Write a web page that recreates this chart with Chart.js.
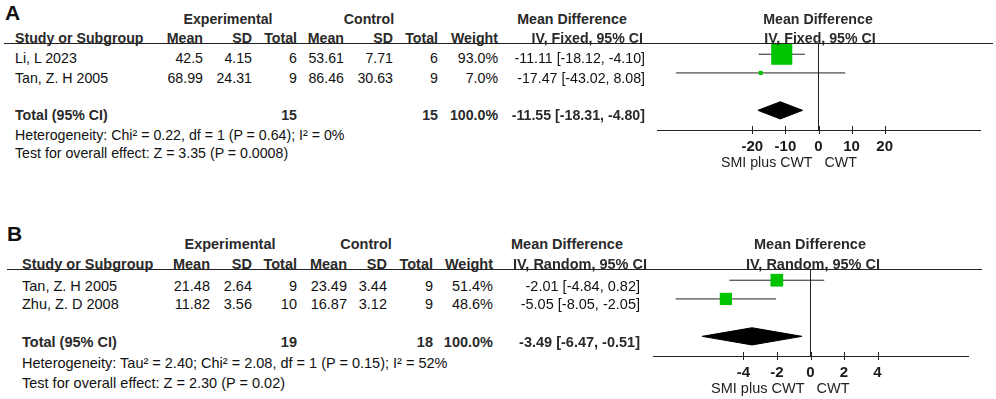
<!DOCTYPE html>
<html lang="en">
<head>
<meta charset="UTF-8" />
<title>Forest plot - Mean Difference</title>
<script src="https://cdn.jsdelivr.net/npm/chart.js@4.4.0/dist/chart.umd.min.js"></script>
<style>
  html, body { margin: 0; padding: 0; background: #fff; }
  body {
    width: 996px; height: 399px; position: relative; overflow: hidden;
    font-family: "Liberation Sans", Arial, Helvetica, sans-serif;
    font-size: 14.2px; color: #111;
  }
  .t { position: absolute; white-space: nowrap; line-height: 1; }
  .b { font-weight: bold; color: #2a2a2a; }
  .letter { font-weight: bold; color: #111; }
  .rule { position: absolute; height: 1px; background: #222; }
  canvas { position: absolute; }
</style>
</head>
<body>

<canvas id="plotA" width="356" height="173" style="left:640px; top:0px"></canvas>
<canvas id="plotB" width="356" height="173" style="left:640px; top:226px"></canvas>

<script>
  // ---- panel A : IV, Fixed ----
  var studyA = ["Li, L 2023", "Tan, Z. H 2005"];
  var expMeanA = [42.5, 68.99];
  var expSdA = [4.15, 24.31];
  var expNA = [6, 9];
  var ctlMeanA = [53.61, 86.46];
  var ctlSdA = [7.71, 30.63];
  var ctlNA = [6, 9];
  var weightA = [93.0, 7.0];
  var mdA = [-11.11, -17.47];
  var loA = [-18.12, -43.02];
  var hiA = [-4.10, 8.08];
  var totalA = [-11.55, -18.31, -4.80];   // md, lower, upper
  var totalNA = [15, 15];
  var hetA = "Heterogeneity: Chi² = 0.22, df = 1 (P = 0.64); I² = 0%";
  var effectA = "Test for overall effect: Z = 3.35 (P = 0.0008)";
  var methodA = "IV, Fixed, 95% CI";
  var ticksA = [-20, -10, 0, 10, 20];
  var rangeA = [-48.8, 48.8];

  // ---- panel B : IV, Random ----
  var studyB = ["Tan, Z. H 2005", "Zhu, Z. D 2008"];
  var expMeanB = [21.48, 11.82];
  var expSdB = [2.64, 3.56];
  var expNB = [9, 10];
  var ctlMeanB = [23.49, 16.87];
  var ctlSdB = [3.44, 3.12];
  var ctlNB = [9, 9];
  var weightB = [51.4, 48.6];
  var mdB = [-2.01, -5.05];
  var loB = [-4.84, -8.05];
  var hiB = [0.82, -2.05];
  var totalB = [-3.49, -6.47, -0.51];
  var totalNB = [19, 18];
  var hetB = "Heterogeneity: Tau² = 2.40; Chi² = 2.08, df = 1 (P = 0.15); I² = 52%";
  var effectB = "Test for overall effect: Z = 2.30 (P = 0.02)";
  var methodB = "IV, Random, 95% CI";
  var ticksB = [-4, -2, 0, 2, 4];
  var rangeB = [-9.4, 9.4];

  var favourLeft = "SMI plus CWT";
  var favourRight = "CWT";

  var GREEN = "#00c400";
  var INK = "#222";
  var FONT = "'Liberation Sans', Arial, sans-serif";

  function put(text, x, y, align, cls, fs) {
    var el = document.createElement("div");
    el.className = "t " + (cls || "");
    el.textContent = text;
    el.style.left = x + "px";
    el.style.top = y + "px";
    el.style.fontSize = fs + "px";
    var tx = align === "right" ? "-100%" : align === "center" ? "-50%" : "0";
    el.style.transform = "translate(" + tx + ",-50%)";
    document.body.appendChild(el);
  }

  function ci(md, lo, hi) {
    return md.toFixed(2) + " [" + lo.toFixed(2) + ", " + hi.toFixed(2) + "]";
  }

  function drawTable(d, L) {
    var fs = L.fs;
    var x0 = L.left;
    put(d.letter, L.letterX, L.letterY, "left", "letter", 21);
    put("Experimental", L.expC, L.groupY, "center", "b", fs);
    put("Control", L.ctlC, L.groupY, "center", "b", fs);
    put("Mean Difference", L.mdC, L.groupY, "center", "b", fs);
    put("Mean Difference", L.plotC, L.groupY, "center", "b", fs);

    var c = L.cols;
    put("Study or Subgroup", x0, L.headY, "left", "b", fs);
    put("Mean", c[0], L.headY, "right", "b", fs);
    put("SD", c[1], L.headY, "right", "b", fs);
    put("Total", c[2], L.headY, "right", "b", fs);
    put("Mean", c[3], L.headY, "right", "b", fs);
    put("SD", c[4], L.headY, "right", "b", fs);
    put("Total", c[5], L.headY, "right", "b", fs);
    put("Weight", c[6], L.headY, "right", "b", fs);
    put(d.method, L.methodR, L.headY, "right", "b", fs);
    put(d.method, L.plotMethodC, L.headY, "center", "b", fs);

    var rule = document.createElement("div");
    rule.className = "rule";
    rule.style.left = L.lineStart + "px";
    rule.style.top = L.lineY + "px";
    rule.style.width = (L.lineEnd - L.lineStart) + "px";
    document.body.appendChild(rule);

    for (var i = 0; i < d.study.length; i++) {
      var y = L.rowY[i];
      put(d.study[i], x0, y, "left", "", fs);
      put(String(d.expMean[i]), c[0], y, "right", "", fs);
      put(String(d.expSd[i]), c[1], y, "right", "", fs);
      put(String(d.expN[i]), c[2], y, "right", "", fs);
      put(String(d.ctlMean[i]), c[3], y, "right", "", fs);
      put(String(d.ctlSd[i]), c[4], y, "right", "", fs);
      put(String(d.ctlN[i]), c[5], y, "right", "", fs);
      put(d.weight[i].toFixed(1) + "%", c[6], y, "right", "", fs);
      put(ci(d.md[i], d.lo[i], d.hi[i]), L.ciR, y, "right", "", fs);
    }

    put("Total (95% CI)", x0, L.totalY, "left", "b", fs);
    put(String(d.totalN[0]), c[2], L.totalY, "right", "b", fs);
    put(String(d.totalN[1]), c[5], L.totalY, "right", "b", fs);
    put("100.0%", c[6], L.totalY, "right", "b", fs);
    put(ci(d.total[0], d.total[1], d.total[2]), L.ciR, L.totalY, "right", "b", fs);
    put(d.het, x0, L.hetY, "left", "", fs);
    put(d.effect, x0, L.effectY, "left", "", fs);
  }

  // tick marks crossing the axis + the two "favours" labels
  var axisExtras = {
    id: "axisExtras",
    afterDraw: function (chart) {
      var ctx = chart.ctx;
      var x = chart.scales.x;
      var yb = chart.chartArea.bottom;
      var fs = chart.options.plugins.axisExtras.fontSize;
      ctx.save();
      ctx.strokeStyle = INK;
      ctx.lineWidth = 1;
      x.ticks.forEach(function (t) {
        var px = Math.round(x.getPixelForValue(t.value)) + 0.5;
        ctx.beginPath();
        ctx.moveTo(px, yb - 4);
        ctx.lineTo(px, yb + 4);
        ctx.stroke();
      });
      var zero = x.getPixelForValue(0);
      ctx.fillStyle = INK;
      ctx.font = fs + "px " + FONT;
      ctx.textBaseline = "middle";
      ctx.textAlign = "right";
      ctx.fillText(favourLeft, zero - 6, yb + 33);
      ctx.textAlign = "left";
      ctx.fillText(favourRight, zero + 6, yb + 33);
      ctx.restore();
    }
  };

  function drawPlot(canvasId, d, L) {
    var rows = d.study.map(function (s, i) { return i + 1; });
    var totalRow = d.study.length + 2;
    var yMin = 0.4, yMax = 5.05;
    var dh = 0.46;

    var datasets = [];
    // squares, size from weight
    datasets.push({
      data: d.md.map(function (m, i) { return { x: m, y: rows[i] }; }),
      pointStyle: "rect",
      pointRadius: d.weight.map(function (w) { return L.boxScale * Math.pow(w, 0.64) / 1.414; }),
      backgroundColor: GREEN,
      borderWidth: 0,
      showLine: false
    });
    // confidence interval whiskers
    for (var i = 0; i < d.study.length; i++) {
      datasets.push({
        data: [{ x: d.lo[i], y: rows[i] }, { x: d.hi[i], y: rows[i] }],
        showLine: true, borderColor: INK, borderWidth: 1, pointRadius: 0
      });
    }
    // pooled diamond
    datasets.push({
      data: [
        { x: d.total[1], y: totalRow },
        { x: d.total[0], y: totalRow - dh },
        { x: d.total[2], y: totalRow },
        { x: d.total[0], y: totalRow + dh },
        { x: d.total[1], y: totalRow }
      ],
      showLine: true, borderColor: "#000", borderWidth: 1,
      backgroundColor: "#000", fill: "shape", pointRadius: 0, tension: 0
    });
    // line of no effect
    datasets.push({
      data: [{ x: 0, y: yMin }, { x: 0, y: yMax }],
      showLine: true, borderColor: INK, borderWidth: 1, pointRadius: 0
    });

    new Chart(document.getElementById(canvasId), {
      type: "scatter",
      data: { datasets: datasets },
      plugins: [axisExtras],
      options: {
        responsive: false,
        animation: false,
        clip: false,
        layout: { padding: { left: L.padL, right: L.padR, top: 43, bottom: 0 } },
        plugins: {
          legend: { display: false },
          tooltip: { enabled: false },
          axisExtras: { fontSize: L.fs }
        },
        scales: {
          x: {
            type: "linear",
            min: d.range[0],
            max: d.range[1],
            afterBuildTicks: function (scale) {
              scale.ticks = d.ticks.map(function (v) { return { value: v }; });
            },
            afterFit: function (scale) { scale.height = 43; },
            grid: { display: false, drawTicks: false },
            border: { display: true, color: INK, width: 1 },
            ticks: {
              color: "#1a1a1a",
              padding: 8,
              maxRotation: 0,
              font: { family: FONT, size: 15, weight: "bold" }
            }
          },
          y: {
            type: "linear",
            display: false,
            reverse: true,
            min: yMin,
            max: yMax
          }
        }
      }
    });
  }

  var dataA = {
    letter: "A", study: studyA, expMean: expMeanA, expSd: expSdA, expN: expNA,
    ctlMean: ctlMeanA, ctlSd: ctlSdA, ctlN: ctlNA, weight: weightA,
    md: mdA, lo: loA, hi: hiA, total: totalA, totalN: totalNA,
    het: hetA, effect: effectA, method: methodA, ticks: ticksA, range: rangeA
  };
  var dataB = {
    letter: "B", study: studyB, expMean: expMeanB, expSd: expSdB, expN: expNB,
    ctlMean: ctlMeanB, ctlSd: ctlSdB, ctlN: ctlNB, weight: weightB,
    md: mdB, lo: loB, hi: hiB, total: totalB, totalN: totalNB,
    het: hetB, effect: effectB, method: methodB, ticks: ticksB, range: rangeB
  };

  var layoutA = {
    fs: 14.2, left: 15, letterX: 5, lineStart: 4,
    letterY: 12, groupY: 19, headY: 38, lineY: 43, lineEnd: 993,
    rowY: [58, 78], totalY: 115, hetY: 135, effectY: 153,
    cols: [203, 252, 297, 344, 393, 438, 498],
    expC: 228, ctlC: 369, mdC: 572, plotC: 818, plotMethodC: 820,
    methodR: 643, ciR: 645,
    padL: 17, padR: 16, boxScale: 1.16
  };
  var layoutB = {
    fs: 14.5, left: 22, letterX: 7, lineStart: 7,
    letterY: 233, groupY: 244, headY: 264, lineY: 269, lineEnd: 982,
    rowY: [286, 304], totalY: 342, hetY: 363, effectY: 383,
    cols: [210, 252, 297, 347, 387, 433, 493],
    expC: 230, ctlC: 366, mdC: 567, plotC: 810, plotMethodC: 813,
    methodR: 647, ciR: 640,
    padL: 13, padR: 28, boxScale: 1.02
  };

  drawTable(dataA, layoutA);
  drawTable(dataB, layoutB);
  drawPlot("plotA", dataA, layoutA);
  drawPlot("plotB", dataB, layoutB);
</script>
</body>
</html>
